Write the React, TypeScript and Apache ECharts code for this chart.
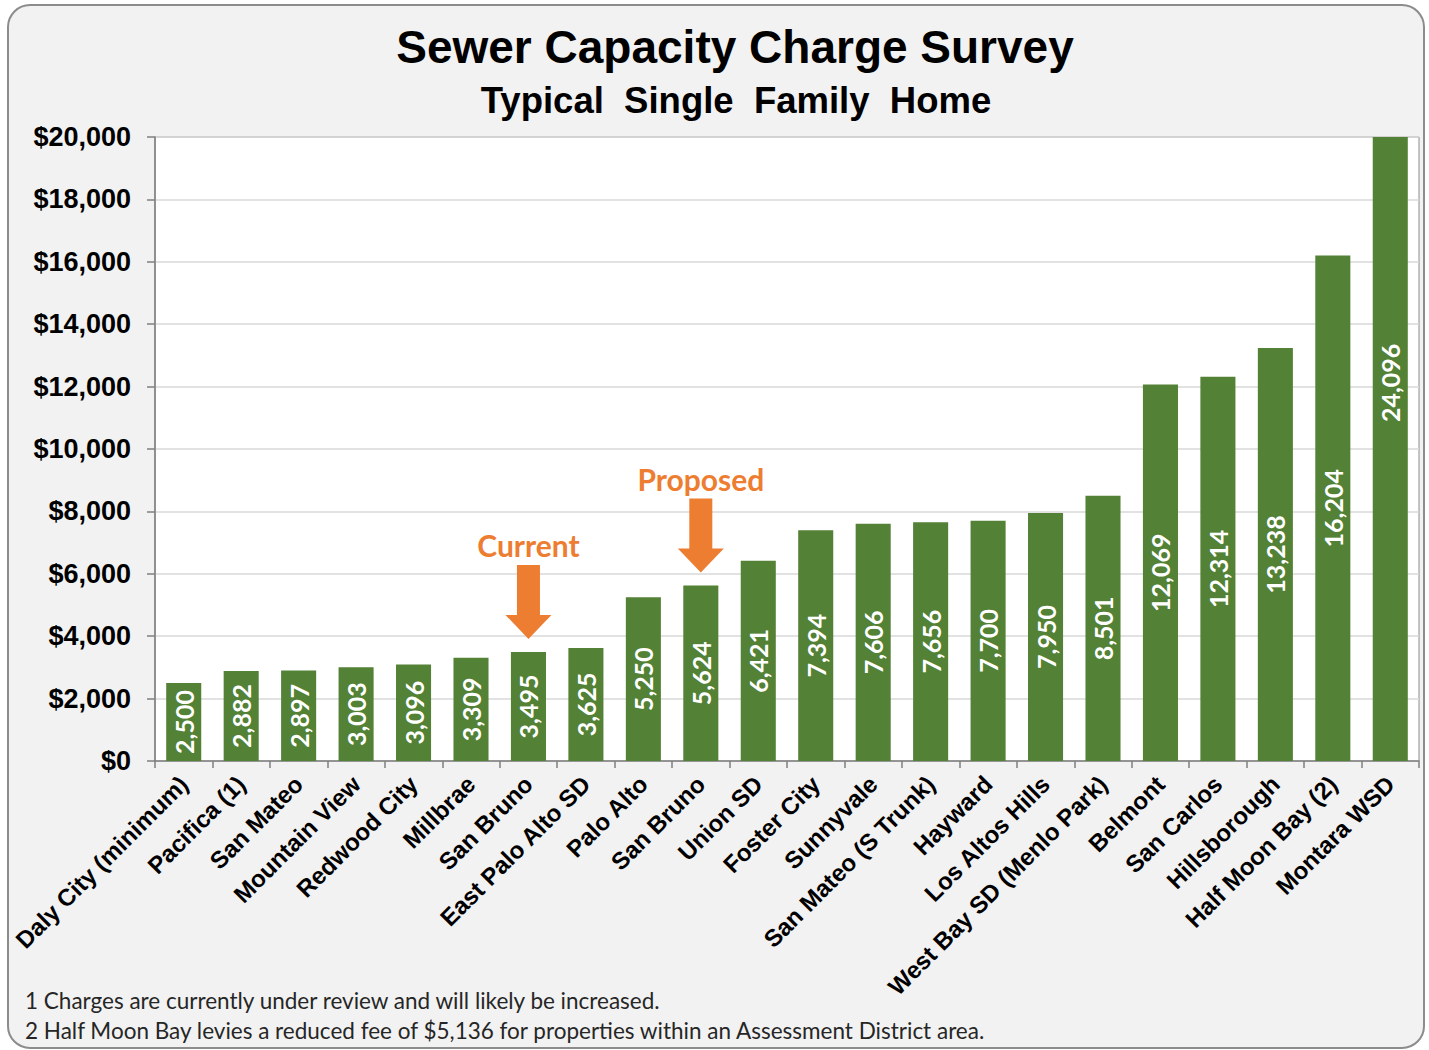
import React, { useEffect, useRef } from 'react';
import * as echarts from 'echarts';

const categories = [
  'Daly City (minimum)', 'Pacifica (1)', 'San Mateo', 'Mountain View', 'Redwood City',
  'Millbrae', 'San Bruno', 'East Palo Alto SD', 'Palo Alto', 'San Bruno', 'Union SD',
  'Foster City', 'Sunnyvale', 'San Mateo (S Trunk)', 'Hayward', 'Los Altos Hills',
  'West Bay SD (Menlo Park)', 'Belmont', 'San Carlos', 'Hillsborough', 'Half Moon Bay (2)', 'Montara WSD',
];
const charges = [
  2500, 2882, 2897, 3003, 3096, 3309, 3495, 3625, 5250, 5624, 6421,
  7394, 7606, 7656, 7700, 7950, 8501, 12069, 12314, 13238, 16204, 24096,
];
const yMin = 0;
const yMax = 20000;
const yStep = 2000;
const callouts = [
  { name: 'Current', index: 6 },
  { name: 'Proposed', index: 9 },
];
const titleText = 'Sewer Capacity Charge Survey';
const subtitleText = 'Typical  Single  Family  Home';
const footnotes = [
  '1 Charges are currently under review and will likely be increased.',
  '2 Half Moon Bay levies a reduced fee of $5,136 for properties within an Assessment District area.',
];

const GREEN = '#538135';
const ORANGE = '#ED7D31';
const ARIAL = '"Liberation Sans", Arial, sans-serif';
const CALIBRI = 'Lato, "Open Sans", sans-serif';

export default function App() {
  const ref = useRef<HTMLDivElement>(null);

  useEffect(() => {
    if (!ref.current) return;
    const chart = echarts.init(ref.current, undefined, { renderer: 'svg' });

    const barData = charges.map((v) =>
      v > yMax
        ? {
            value: v,
            label: { position: ['50%', '39.4%'], align: 'center', verticalAlign: 'middle' },
          }
        : v
    );

    chart.setOption({
      animation: false,
      backgroundColor: '#ffffff',
      graphic: [
        {
          type: 'rect',
          z: -100,
          silent: true,
          shape: { x: 8, y: 5, width: 1416, height: 1043, r: 22 },
          style: { fill: '#f2f2f2', stroke: '#8c8c8c', lineWidth: 2 },
        },
        {
          type: 'text',
          x: 735,
          y: 47,
          style: {
            text: titleText,
            fill: '#000',
            font: `bold 46px ${ARIAL}`,
            textAlign: 'center',
            textVerticalAlign: 'middle',
          },
        },
        {
          type: 'text',
          x: 736,
          y: 100,
          style: {
            text: subtitleText,
            fill: '#000',
            font: `bold 36.5px ${ARIAL}`,
            textAlign: 'center',
            textVerticalAlign: 'middle',
          },
        },
        ...footnotes.map((t, i) => ({
          type: 'text',
          x: 25,
          y: 1000 + i * 30,
          style: {
            text: t,
            fill: '#262626',
            font: `22.5px ${CALIBRI}`,
            textAlign: 'left',
            textVerticalAlign: 'middle',
          },
        })),
      ],
      grid: {
        left: 155,
        top: 137,
        right: 10,
        bottom: 289,
        show: true,
        backgroundColor: '#ffffff',
        borderColor: '#8c8c8c',
        borderWidth: 1,
        containLabel: false,
      },
      xAxis: {
        type: 'category',
        data: categories,
        axisLine: { lineStyle: { color: '#7f7f7f', width: 1.5 } },
        axisTick: { show: true, length: 7, interval: 0, lineStyle: { color: '#7f7f7f', width: 1.5 } },
        axisLabel: {
          interval: 0,
          rotate: 45,
          margin: 19,
          color: '#000',
          fontSize: 24,
          fontWeight: 'bold',
          fontFamily: ARIAL,
        },
      },
      yAxis: {
        type: 'value',
        min: yMin,
        max: yMax,
        interval: yStep,
        axisLine: { show: true, lineStyle: { color: '#7f7f7f', width: 1.5 } },
        axisTick: { show: true, length: 8, lineStyle: { color: '#7f7f7f', width: 1.5 } },
        splitLine: { lineStyle: { color: '#d9d9d9', width: 1.5 } },
        axisLabel: {
          margin: 24,
          color: '#000',
          fontSize: 27,
          fontWeight: 'bold',
          fontFamily: ARIAL,
          formatter: (v: number) => '$' + v.toLocaleString('en-US'),
        },
      },
      series: [
        {
          type: 'bar',
          data: barData,
          barWidth: '61%',
          itemStyle: { color: GREEN },
          label: {
            show: true,
            position: 'inside',
            rotate: 90,
            color: '#ffffff',
            fontSize: 25,
            fontWeight: 'bold',
            fontFamily: CALIBRI,
            formatter: (p: any) => Number(p.value).toLocaleString('en-US'),
          },
          markPoint: {
            symbol: 'path://M11.5,0 L34.5,0 L34.5,50 L46,50 L23,74 L0,50 L11.5,50 Z',
            symbolSize: [46, 74],
            symbolOffset: [0, -50],
            itemStyle: { color: ORANGE },
            label: {
              show: true,
              position: 'top',
              distance: 5,
              formatter: '{b}',
              color: ORANGE,
              fontSize: 30,
              fontWeight: 'bold',
              fontFamily: CALIBRI,
            },
            data: callouts.map((c) => ({ name: c.name, coord: [c.index, charges[c.index]] })),
          },
        },
      ],
    });

    return () => chart.dispose();
  }, []);

  return (
    <div
      ref={ref}
      style={{ position: 'fixed', left: 0, top: 0, width: 1429, height: 1050 }}
    />
  );
}
